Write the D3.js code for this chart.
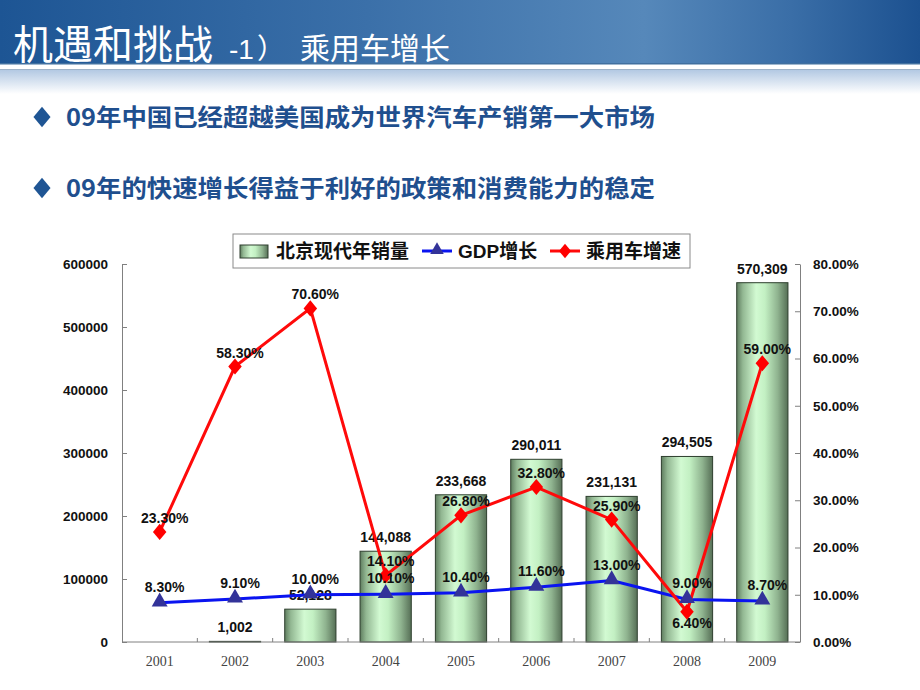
<!DOCTYPE html>
<html>
<head>
<meta charset="utf-8">
<script src="https://cdn.jsdelivr.net/npm/d3@7"></script>
<style>
  body { margin: 0; background: #fff; }
  svg { display: block; }
</style>
</head>
<body>
<div id="chart"></div>
<script>
// data
const years = ['2001', '2002', '2003', '2004', '2005', '2006', '2007', '2008', '2009'];
const sales = [null, 1002, 52128, 144088, 233668, 290011, 231131, 294505, 570309]; // 北京现代年销量
const gdpGrowth = [8.3, 9.1, 10.0, 10.1, 10.4, 11.6, 13.0, 9.0, 8.7];          // GDP增长 (%)
const carGrowth = [23.3, 58.3, 70.6, 14.1, 26.8, 32.8, 25.9, 6.4, 59.0];        // 乘用车增速 (%)
const salesTicks = [0, 100000, 200000, 300000, 400000, 500000, 600000];
const pctTicks = [0, 10, 20, 30, 40, 50, 60, 70, 80];
const bullets = ['09年中国已经超越美国成为世界汽车产销第一大市场', '09年的快速增长得益于利好的政策和消费能力的稳定'];

const W = 920, H = 690;
const cjk = '"Noto Sans CJK SC", "Noto Sans", sans-serif';
const latin = '"Liberation Sans", Arial, sans-serif';

const svg = d3.select('#chart').append('svg')
    .attr('width', W)
    .attr('height', H);

const defs = svg.append('defs');

// title bar gradient
const tg = defs.append('linearGradient').attr('id', 'titleGrad');
[[0, '#1d5594'], [0.4, '#3b70a9'], [0.7, '#5688ba'], [0.86, '#3a6ea7'], [1, '#1c5190']]
    .forEach(([o, c]) => tg.append('stop').attr('offset', o).attr('stop-color', c));

const fade = defs.append('linearGradient').attr('id', 'fadeGrad')
    .attr('x1', 0).attr('y1', 0).attr('x2', 0).attr('y2', 1);
fade.append('stop').attr('offset', 0).attr('stop-color', '#b3c9e3');
fade.append('stop').attr('offset', 1).attr('stop-color', '#ffffff');

// cylinder-ish bar gradient
const bg = defs.append('linearGradient').attr('id', 'barGrad');
[[0, '#5f7d5f'], [0.12, '#93b893'], [0.38, '#d2fad2'], [0.55, '#c3f0c3'], [0.8, '#8fb38f'], [1, '#566f56']]
    .forEach(([o, c]) => bg.append('stop').attr('offset', o).attr('stop-color', c));

// header
svg.append('rect').attr('x', 0).attr('y', 0).attr('width', W).attr('height', 64)
    .attr('fill', 'url(#titleGrad)');
svg.append('rect').attr('x', 0).attr('y', 63).attr('width', W).attr('height', 1.5)
    .attr('fill', '#41709f');
svg.append('rect').attr('x', 0).attr('y', 70).attr('width', W).attr('height', 24)
    .attr('fill', 'url(#fadeGrad)');
svg.append('rect').attr('x', 0).attr('y', 69).attr('width', W).attr('height', 1)
    .attr('fill', '#9fb3c8');

const title = svg.append('text')
    .attr('y', 59)
    .attr('fill', '#fff')
    .style('font-family', cjk);
title.append('tspan').attr('x', 13).style('font-size', '40px').text('机遇和挑战');
title.append('tspan').attr('x', 229).style('font-size', '28px').style('font-family', '"Liberation Sans", sans-serif').text('-1');
title.append('tspan').attr('x', 257).style('font-size', '28px').text('）');
title.append('tspan').attr('x', 300).style('font-size', '30px').text('乘用车增长');

// bullet lines
const diamond = d3.symbol(d3.symbolDiamond, 120)();
bullets.forEach((t, i) => {
    const cy = 117 + i * 71;
    svg.append('path')
        .attr('d', diamond)
        .attr('transform', `translate(42,${cy}) scale(1.45,1)`)
        .attr('fill', '#1f5594');
    svg.append('text')
        .attr('x', 66)
        .attr('y', cy + 9)
        .attr('textLength', 589)
        .attr('lengthAdjust', 'spacingAndGlyphs')
        .attr('fill', '#1f4f8e')
        .style('font-family', cjk)
        .style('font-weight', 'bold')
        .style('font-size', '24px')
        .text(t);
});

// scales
const plotLeft = 122, plotRight = 800, plotTop = 264, plotBottom = 642;
const x = d3.scaleBand().domain(years).range([plotLeft, plotRight]).paddingInner(0.32).paddingOuter(0.16);
const yL = d3.scaleLinear().domain([0, 600000]).range([plotBottom, plotTop]);
const yR = d3.scaleLinear().domain([0, 80]).range([plotBottom, plotTop]);
const cx = d => x(d) + x.bandwidth() / 2;

// axes
const axisL = svg.append('g')
    .attr('transform', `translate(${plotLeft},0)`)
    .call(d3.axisLeft(yL).tickValues(salesTicks).tickSizeInner(-5).tickSizeOuter(0).tickPadding(14).tickFormat(d3.format('d')));
const axisR = svg.append('g')
    .attr('transform', `translate(${plotRight},0)`)
    .call(d3.axisRight(yR).tickValues(pctTicks).tickSizeInner(-5).tickSizeOuter(0).tickPadding(13).tickFormat(d => d.toFixed(2) + '%'));
[axisL, axisR].forEach(a => {
    a.selectAll('path, line').attr('stroke', '#808080');
    a.selectAll('text')
        .attr('fill', '#111')
        .style('font-family', latin)
        .style('font-weight', 'bold')
        .style('font-size', '13.5px');
});

const axisB = svg.append('g')
    .attr('transform', `translate(0,${plotBottom})`)
    .call(d3.axisBottom(x).tickSize(0).tickPadding(14));
axisB.select('.domain').remove();
axisB.selectAll('text')
    .attr('fill', '#444')
    .style('font-family', '"Liberation Serif", "DejaVu Serif", serif')
    .style('font-size', '14px');

const salesData = years.map((y, i) => ({ year: y, v: sales[i] })).filter(d => d.v != null);

// bars
svg.selectAll('.bar')
    .data(salesData)
    .enter().append('rect')
        .attr('class', 'bar')
        .attr('x', d => x(d.year))
        .attr('y', d => yL(d.v))
        .attr('width', x.bandwidth())
        .attr('height', d => plotBottom - yL(d.v))
        .attr('fill', 'url(#barGrad)')
        .attr('stroke', '#2e3f2e')
        .attr('stroke-width', 1);

// x axis line + category separators
svg.append('line')
    .attr('x1', plotLeft).attr('x2', plotRight).attr('y1', plotBottom).attr('y2', plotBottom)
    .attr('stroke', '#808080');
svg.selectAll('.sep')
    .data(d3.range(1, years.length))
    .enter().append('line')
        .attr('class', 'sep')
        .attr('x1', i => plotLeft + x.step() * i)
        .attr('x2', i => plotLeft + x.step() * i)
        .attr('y1', plotBottom).attr('y2', plotBottom - 4)
        .attr('stroke', '#808080');

// bar value labels
svg.selectAll('.bar-label')
    .data(salesData)
    .enter().append('text')
        .attr('class', 'bar-label')
        .attr('x', d => cx(d.year))
        .attr('y', d => yL(d.v) - 9)
        .attr('text-anchor', 'middle')
        .attr('fill', '#111')
        .style('font-family', latin)
        .style('font-weight', 'bold')
        .style('font-size', '14px')
        .text(d => d3.format(',')(d.v));

// lines
const gdpPts = years.map((y, i) => ({ year: y, v: gdpGrowth[i], other: carGrowth[i] }));
const carPts = years.map((y, i) => ({ year: y, v: carGrowth[i], other: gdpGrowth[i] }));
const line = d3.line().x(d => cx(d.year)).y(d => yR(d.v));

svg.append('path').datum(gdpPts)
    .attr('d', line).attr('fill', 'none')
    .attr('stroke', '#0a14f0').attr('stroke-width', 3);
svg.append('path').datum(carPts)
    .attr('d', line).attr('fill', 'none')
    .attr('stroke', '#ff0a0a').attr('stroke-width', 3);

svg.selectAll('.tri')
    .data(gdpPts)
    .enter().append('path')
        .attr('class', 'tri')
        .attr('d', d3.symbol(d3.symbolTriangle, 110)())
        .attr('transform', d => `translate(${cx(d.year)},${yR(d.v) - 1})`)
        .attr('fill', '#333399');
svg.selectAll('.dia')
    .data(carPts)
    .enter().append('path')
        .attr('class', 'dia')
        .attr('d', d3.symbol(d3.symbolDiamond, 75)())
        .attr('transform', d => `translate(${cx(d.year)},${yR(d.v)}) scale(1.45,1)`)
        .attr('fill', '#ff0000');

// line labels (car label goes below the point when GDP sits above it)
const pctLabel = (cls, pts, above) => svg.selectAll('.' + cls)
    .data(pts)
    .enter().append('text')
        .attr('class', cls)
        .attr('x', d => cx(d.year) + 5)
        .attr('y', d => d.v < d.other && cls === 'car-label' ? yR(d.v) + 16 : yR(d.v) - above)
        .attr('text-anchor', 'middle')
        .attr('fill', '#111')
        .style('font-family', latin)
        .style('font-weight', 'bold')
        .style('font-size', '14px')
        .text(d => d.v.toFixed(2) + '%');
pctLabel('gdp-label', gdpPts, 11);
pctLabel('car-label', carPts, 9);

// legend
const lg = svg.append('g').attr('transform', 'translate(233,234)');
lg.append('rect').attr('width', 457).attr('height', 34)
    .attr('fill', '#fff').attr('stroke', '#8a8a8a');
lg.append('rect').attr('x', 7).attr('y', 11).attr('width', 28).attr('height', 13)
    .attr('fill', 'url(#barGrad)').attr('stroke', '#2e3f2e');
const legText = (tx, t) => lg.append('text')
    .attr('x', tx).attr('y', 24)
    .attr('fill', '#111')
    .style('font-family', cjk)
    .style('font-weight', 'bold')
    .style('font-size', '19px')
    .text(t);
legText(43, '北京现代年销量');
lg.append('line').attr('x1', 189).attr('x2', 219).attr('y1', 17).attr('y2', 17)
    .attr('stroke', '#0a14f0').attr('stroke-width', 3);
lg.append('path').attr('d', d3.symbol(d3.symbolTriangle, 80)())
    .attr('transform', 'translate(204,16)').attr('fill', '#333399');
legText(225, 'GDP增长').style('font-family', '"Liberation Sans", ' + cjk);
lg.append('line').attr('x1', 317).attr('x2', 347).attr('y1', 17).attr('y2', 17)
    .attr('stroke', '#ff0a0a').attr('stroke-width', 3);
lg.append('path').attr('d', d3.symbol(d3.symbolDiamond, 60)())
    .attr('transform', 'translate(332,17) scale(1.45,1)').attr('fill', '#ff0000');
legText(353, '乘用车增速');
</script>
</body>
</html>
